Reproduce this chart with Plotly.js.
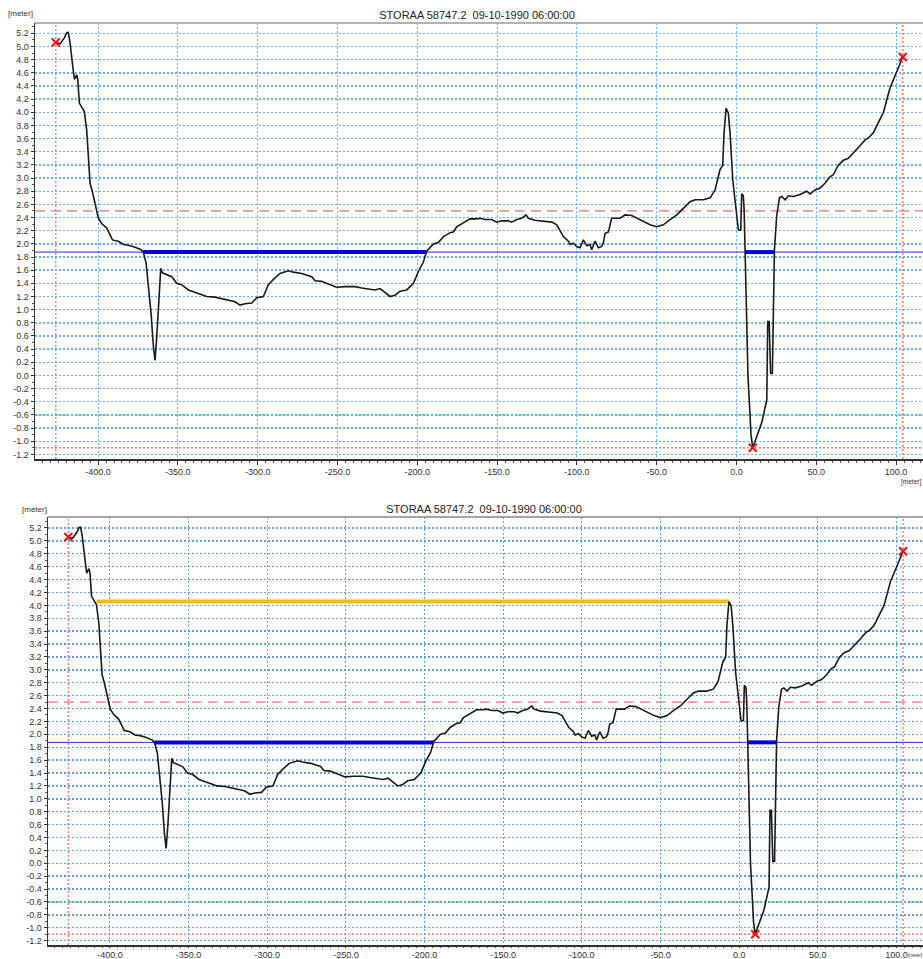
<!DOCTYPE html>
<html>
<head>
<meta charset="utf-8">
<script src="https://cdn.plot.ly/plotly-3.0.1.min.js"></script>
<style>
  html, body { margin: 0; padding: 0; background: #fff; overflow: hidden; width: 923px; height: 959px; }
  #top { position: absolute; left: 0; top: 0; width: 960px; height: 488px; z-index: 2; }
  #bottom { position: absolute; left: 0; top: 480px; width: 960px; height: 490px; z-index: 1; }
</style>
</head>
<body>
<div id="top"></div>
<div id="bottom"></div>
<script>
// ---- data ----
const chartTitle = "STORAA 58747.2\u00a0\u00a009-10-1990 06:00:00";
const unitLabel = "[meter]";

const profileX = [
  -426.5, -423.8, -421.1, -419.6, -418.6, -417.5, -416.1, -414.8, -413.4, -412.7,
  -411.7, -410.2, -408.6, -407.1, -406.1, -405.0, -403.6, -401.9, -399.8, -397.7,
  -394.6, -392.5, -391.0, -387.3, -384.1, -381.0, -376.8, -373.1, -371.6, -369.9,
  -368.5, -366.8, -365.3, -364.3, -363.2, -361.8, -360.7, -359.7, -357.0, -353.8,
  -350.7, -347.6, -343.4, -339.2, -335.0, -331.9, -326.7, -322.5, -318.3, -314.2,
  -311.0, -307.9, -303.7, -300.6, -296.4, -293.3, -290.1, -286.0, -280.7, -277.6,
  -272.4, -266.1, -264.0, -259.9, -255.7, -250.5, -245.2, -239.0, -234.8, -230.6,
  -226.4, -223.3, -220.2, -217.0, -213.9, -210.8, -206.6, -202.4, -199.3, -196.2,
  -194.1, -189.9, -186.8, -183.6, -179.4, -177.4, -175.3, -171.1, -166.9, -162.7,
  -160.7, -157.5, -153.3, -150.2, -147.1, -142.9, -140.8, -137.7, -134.5, -131.8,
  -130.4, -126.2, -121.0, -115.7, -112.6, -110.5, -108.4, -105.3, -104.3, -102.2,
  -100.1, -98.0, -95.9, -93.8, -91.7, -90.7, -88.6, -86.5, -84.4, -83.4,
  -82.3, -80.2, -78.2, -72.9, -69.8, -65.6, -60.4, -54.1, -50.0, -45.8,
  -41.6, -37.4, -33.3, -29.1, -25.9, -20.7, -16.5, -13.4, -10.3, -8.6,
  -7.8, -6.5, -5.1, -4.0, -2.3, -0.9, 0.2, 1.2, 2.7, 3.3,
  4.3, 4.8, 5.4, 6.0, 6.6, 7.2, 8.5, 9.1, 10.2, 12.7,
  15.8, 19.0, 19.6, 20.5, 21.4, 22.5, 23.8, 25.2, 26.9, 28.4,
  30.5, 32.5, 35.7, 39.8, 44.0, 46.1, 49.2, 52.4, 55.5, 58.6,
  60.7, 63.9, 67.0, 70.1, 73.3, 77.4, 80.6, 82.7, 85.8, 88.9,
  92.1, 94.2, 96.2, 98.3, 100.4, 102.5, 104.2
];
const profileY = [
  5.06, 5.04, 5.13, 5.21, 5.21, 5.05, 4.75, 4.50, 4.57, 4.50,
  4.14, 4.08, 4.01, 3.73, 3.28, 2.92, 2.80, 2.62, 2.39, 2.31,
  2.24, 2.14, 2.06, 2.04, 1.99, 1.98, 1.95, 1.91, 1.87, 1.71,
  1.40, 0.95, 0.44, 0.23, 0.59, 1.10, 1.63, 1.56, 1.53, 1.50,
  1.40, 1.38, 1.30, 1.26, 1.23, 1.20, 1.19, 1.17, 1.15, 1.12,
  1.07, 1.09, 1.10, 1.18, 1.20, 1.38, 1.46, 1.55, 1.59, 1.57,
  1.55, 1.50, 1.44, 1.43, 1.39, 1.34, 1.35, 1.35, 1.33, 1.31,
  1.30, 1.32, 1.26, 1.20, 1.22, 1.28, 1.30, 1.40, 1.58, 1.72,
  1.89, 2.00, 2.02, 2.11, 2.17, 2.18, 2.26, 2.32, 2.38, 2.38,
  2.39, 2.37, 2.37, 2.33, 2.35, 2.35, 2.33, 2.37, 2.39, 2.44,
  2.39, 2.36, 2.34, 2.33, 2.29, 2.21, 2.11, 2.04, 1.99, 2.01,
  1.96, 1.94, 2.06, 1.97, 1.99, 1.91, 2.04, 1.94, 1.96, 2.02,
  2.16, 2.18, 2.39, 2.39, 2.44, 2.43, 2.37, 2.29, 2.26, 2.29,
  2.37, 2.44, 2.54, 2.64, 2.67, 2.67, 2.70, 2.82, 3.13, 3.19,
  3.68, 4.06, 3.99, 3.68, 2.97, 2.67, 2.42, 2.21, 2.21, 2.76,
  2.73, 2.52, 1.91, 1.30, 1.00, 0.00, -0.60, -0.90, -1.10, -0.92,
  -0.72, -0.37, 0.82, 0.82, 0.03, 0.03, 1.91, 2.42, 2.70, 2.72,
  2.67, 2.73, 2.72, 2.75, 2.80, 2.76, 2.82, 2.85, 2.92, 3.02,
  3.05, 3.20, 3.27, 3.30, 3.38, 3.49, 3.58, 3.61, 3.69, 3.84,
  4.00, 4.19, 4.37, 4.49, 4.62, 4.72, 4.84
];

const extremeX = [-426.5, 10.2, 104.2];
const extremeY = [5.06, -1.10, 4.84];

const waterLevel = 1.875;
const waterSegStart = [-371.8, 5.3];
const waterSegEnd = [-194.3, 23.7];

const bankLevel = 4.06;
const bankSeg = [-408.5, -6.5];

const upperLevel = 2.5;   // red dashed
const lowerLevel = -0.6;  // green dashed
const minLevel = -1.1;    // red dotted

const xTickVals = [-400, -350, -300, -250, -200, -150, -100, -50, 0, 50, 100];
const yTickVals = [-1.2, -1.0, -0.8, -0.6, -0.4, -0.2, 0.0, 0.2, 0.4, 0.6, 0.8, 1.0,
  1.2, 1.4, 1.6, 1.8, 2.0, 2.2, 2.4, 2.6, 2.8, 3.0, 3.2, 3.4, 3.6, 3.8, 4.0,
  4.2, 4.4, 4.6, 4.8, 5.0, 5.2];

// ---- building ----
const FONT = "Liberation Sans, Arial, sans-serif";

function buildTraces(withBank) {
  const traces = [];
  traces.push({ x: [-1000, 1000], y: [waterLevel, waterLevel], mode: 'lines',
    line: { color: 'rgb(40,40,255)', width: 1 }, hoverinfo: 'skip' });
  for (let i = 0; i < waterSegStart.length; i++) {
    traces.push({ x: [waterSegStart[i], waterSegEnd[i]], y: [waterLevel, waterLevel], mode: 'lines',
      line: { color: 'rgb(0,0,225)', width: 4 }, hoverinfo: 'skip' });
  }
  if (withBank) {
    traces.push({ x: bankSeg, y: [bankLevel, bankLevel], mode: 'lines',
      line: { color: 'rgb(238,190,20)', width: 4 }, hoverinfo: 'skip' });
  }
  traces.push({ x: profileX, y: profileY, mode: 'lines',
    line: { color: '#1a1a1a', width: 1.6 }, hoverinfo: 'skip' });
  traces.push({ x: extremeX, y: extremeY, mode: 'markers',
    marker: { symbol: 'x-thin', size: 8, line: { color: 'rgb(230,20,20)', width: 2 } },
    hoverinfo: 'skip' });
  return traces;
}

function buildShapes(topLineColor) {
  const s = [];
  const hline = (y, color, dash, width) => ({ type: 'line', layer: 'below', xref: 'paper', x0: 0, x1: 1,
    yref: 'y', y0: y, y1: y, line: { color: color, dash: dash, width: width } });
  s.push(hline(upperLevel, 'rgb(255,110,110)', '10px,6px', 1.3));
  s.push(hline(lowerLevel, 'rgb(150,240,150)', '14px,6px', 2));
  s.push(hline(minLevel, 'rgb(255,120,120)', '2px,2px', 1.5));
  s.push({ type: 'line', layer: 'below', xref: 'x', x0: extremeX[0], x1: extremeX[0],
    yref: 'paper', y0: 0, y1: 1, line: { color: 'rgb(255,120,120)', dash: '2px,2px', width: 1.5 } });
  s.push({ type: 'line', layer: 'below', xref: 'x', x0: extremeX[2], x1: extremeX[2],
    yref: 'paper', y0: 0, y1: 1, line: { color: 'rgb(255,120,120)', dash: '2px,2px', width: 1.5 } });
  s.push({ type: 'line', layer: 'above', xref: 'paper', x0: 0, x1: 1, yref: 'paper', y0: 1, y1: 1,
    line: { color: topLineColor, width: 1.5 } });
  return s;
}

function buildLayout(p) {
  return {
    width: 960, height: p.height,
    margin: { l: p.l, r: 25, t: p.t, b: p.b, pad: 0 },
    paper_bgcolor: 'rgba(255,255,255,0)', plot_bgcolor: '#fff',
    showlegend: false,
    font: { family: FONT, size: 9, color: '#333' },
    title: { text: chartTitle, font: { family: FONT, size: 11, color: '#222' },
      xref: 'container', yref: 'container', x: p.titleX, xanchor: 'center',
      y: p.titleY, yanchor: 'middle' },
    xaxis: {
      range: p.xRange, tickmode: 'array', tickvals: xTickVals, ticktext: xTickVals.map(v => v.toFixed(1)),
      showgrid: true, gridcolor: p.grid, griddash: '2px,2px', gridwidth: 1,
      zeroline: false, showline: true, linecolor: '#333', linewidth: 1.5,
      ticks: 'outside', ticklen: p.xTickLen, tickcolor: '#333', tickwidth: 1,
      minor: { dtick: 5, tick0: 0, ticks: 'outside', ticklen: p.xMinorLen, tickcolor: '#555', showgrid: false },
      tickfont: { family: FONT, size: 9, color: '#333' }, fixedrange: true
    },
    yaxis: {
      range: p.yRange, tickmode: 'array', tickvals: yTickVals, ticktext: yTickVals.map(v => v.toFixed(1)),
      showgrid: true, gridcolor: p.grid, griddash: '2px,2px', gridwidth: 1.4,
      zeroline: false, showline: true, linecolor: '#333', linewidth: 1.5,
      ticks: 'outside', ticklen: 3, tickcolor: '#333', tickwidth: 1,
      minor: { dtick: 0.1, tick0: 0, ticks: 'outside', ticklen: 2, tickcolor: '#555', showgrid: false },
      tickfont: { family: FONT, size: 9, color: '#333' }, fixedrange: true
    },
    shapes: buildShapes(p.topLine),
    annotations: [
      { text: unitLabel, xref: 'paper', yref: 'paper', x: p.yUnitX, y: p.yUnitY,
        xanchor: 'center', yanchor: 'middle', showarrow: false,
        font: { family: FONT, size: 8, color: '#333' } },
      { text: unitLabel, xref: 'paper', yref: 'paper', x: p.xUnitX, y: p.xUnitY,
        xanchor: 'right', yanchor: 'middle', showarrow: false, borderpad: 0,
        font: { family: FONT, size: p.xUnitSize, color: '#333' } }
    ]
  };
}

const config = { staticPlot: true, displayModeBar: false };

// top panel: div 488 px tall, plot area y 23..459
Plotly.newPlot('top', buildTraces(false), buildLayout({
  height: 488, l: 35, t: 23, b: 29,
  xRange: [-439.5, 124.4], yRange: [-1.27, 5.357],
  titleX: 477 / 960, titleY: 1 - 15 / 488,
  grid: 'rgb(100,175,255)', topLine: '#999',
  xTickLen: 4, xMinorLen: 2,
  yUnitX: (20 - 35) / 900, yUnitY: (459 - 14) / 436,
  xUnitX: (922 - 35) / 900, xUnitY: (459 - 481.5) / 436, xUnitSize: 6.5
}), config);

// bottom panel: div from y=480, plot area y 517..945
Plotly.newPlot('bottom', buildTraces(true), buildLayout({
  height: 490, l: 48, t: 37, b: 25,
  xRange: [-439.4, 124.5], yRange: [-1.267, 5.37],
  titleX: 484 / 960, titleY: 1 - 29 / 490,
  grid: 'rgb(95,160,225)', topLine: '#888',
  xTickLen: 1, xMinorLen: 1,
  yUnitX: (34 - 48) / 887, yUnitY: (945 - 509) / 428,
  xUnitX: (922.5 - 48) / 887, xUnitY: (945 - 955) / 428, xUnitSize: 4.5
}), config);
</script>
</body>
</html>
